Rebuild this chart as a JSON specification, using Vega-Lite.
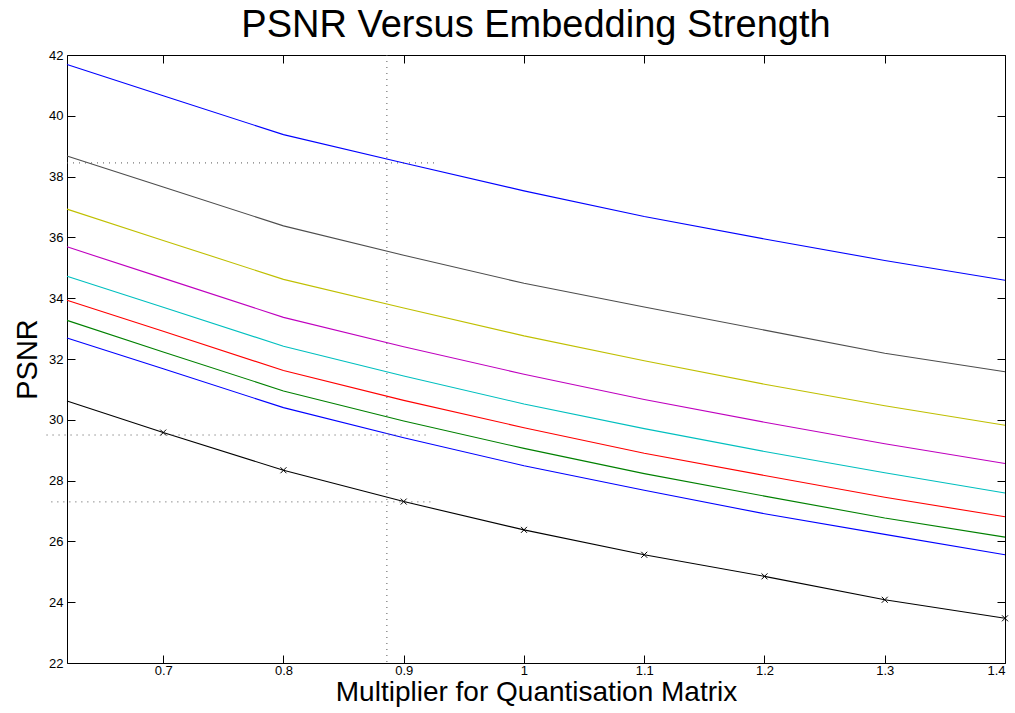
{
  "$schema": "https://vega.github.io/schema/vega-lite/v6.json",
  "width": 938,
  "height": 608,
  "autosize": {"type": "none"},
  "padding": {"left": 67, "top": 55, "right": 10, "bottom": 50},
  "background": "white",
  "config": {
    "font": "Liberation Sans",
    "view": {"stroke": null},
    "axis": {
      "domainColor": "black",
      "domainWidth": 1,
      "tickColor": "black",
      "tickWidth": 1,
      "tickSize": -8,
      "labelFont": "Liberation Sans",
      "labelFontSize": 13,
      "labelColor": "black",
      "grid": false,
      "titleFont": "Liberation Sans",
      "titleFontWeight": "normal",
      "titleColor": "black",
      "titleFontSize": 29
    }
  },
  "title": {
    "text": "PSNR Versus Embedding Strength",
    "fontSize": 38,
    "font": "Liberation Sans",
    "fontWeight": "normal",
    "color": "black",
    "anchor": "middle",
    "offset": 4
  },
  "datasets": {
    "curves": [
      {"s": "b1", "x": 0.62, "y": 41.69}, {"s": "b1", "x": 0.7, "y": 40.66}, {"s": "b1", "x": 0.8, "y": 39.38}, {"s": "b1", "x": 0.9, "y": 38.45}, {"s": "b1", "x": 1.0, "y": 37.53}, {"s": "b1", "x": 1.1, "y": 36.69}, {"s": "b1", "x": 1.2, "y": 35.95}, {"s": "b1", "x": 1.3, "y": 35.24}, {"s": "b1", "x": 1.4, "y": 34.59},
      {"s": "g1", "x": 0.62, "y": 38.68}, {"s": "g1", "x": 0.7, "y": 37.66}, {"s": "g1", "x": 0.8, "y": 36.38}, {"s": "g1", "x": 0.9, "y": 35.41}, {"s": "g1", "x": 1.0, "y": 34.49}, {"s": "g1", "x": 1.1, "y": 33.71}, {"s": "g1", "x": 1.2, "y": 32.95}, {"s": "g1", "x": 1.3, "y": 32.19}, {"s": "g1", "x": 1.4, "y": 31.58},
      {"s": "y1", "x": 0.62, "y": 36.93}, {"s": "y1", "x": 0.7, "y": 35.9}, {"s": "y1", "x": 0.8, "y": 34.62}, {"s": "y1", "x": 0.9, "y": 33.68}, {"s": "y1", "x": 1.0, "y": 32.76}, {"s": "y1", "x": 1.1, "y": 31.94}, {"s": "y1", "x": 1.2, "y": 31.17}, {"s": "y1", "x": 1.3, "y": 30.46}, {"s": "y1", "x": 1.4, "y": 29.82},
      {"s": "m1", "x": 0.62, "y": 35.69}, {"s": "m1", "x": 0.7, "y": 34.66}, {"s": "m1", "x": 0.8, "y": 33.37}, {"s": "m1", "x": 0.9, "y": 32.4}, {"s": "m1", "x": 1.0, "y": 31.5}, {"s": "m1", "x": 1.1, "y": 30.67}, {"s": "m1", "x": 1.2, "y": 29.92}, {"s": "m1", "x": 1.3, "y": 29.21}, {"s": "m1", "x": 1.4, "y": 28.56},
      {"s": "c1", "x": 0.62, "y": 34.72}, {"s": "c1", "x": 0.7, "y": 33.7}, {"s": "c1", "x": 0.8, "y": 32.42}, {"s": "c1", "x": 0.9, "y": 31.44}, {"s": "c1", "x": 1.0, "y": 30.52}, {"s": "c1", "x": 1.1, "y": 29.71}, {"s": "c1", "x": 1.2, "y": 28.96}, {"s": "c1", "x": 1.3, "y": 28.26}, {"s": "c1", "x": 1.4, "y": 27.59},
      {"s": "r1", "x": 0.62, "y": 33.93}, {"s": "r1", "x": 0.7, "y": 32.91}, {"s": "r1", "x": 0.8, "y": 31.62}, {"s": "r1", "x": 0.9, "y": 30.64}, {"s": "r1", "x": 1.0, "y": 29.74}, {"s": "r1", "x": 1.1, "y": 28.9}, {"s": "r1", "x": 1.2, "y": 28.17}, {"s": "r1", "x": 1.3, "y": 27.45}, {"s": "r1", "x": 1.4, "y": 26.81},
      {"s": "n1", "x": 0.62, "y": 33.27}, {"s": "n1", "x": 0.7, "y": 32.23}, {"s": "n1", "x": 0.8, "y": 30.95}, {"s": "n1", "x": 0.9, "y": 29.96}, {"s": "n1", "x": 1.0, "y": 29.06}, {"s": "n1", "x": 1.1, "y": 28.23}, {"s": "n1", "x": 1.2, "y": 27.49}, {"s": "n1", "x": 1.3, "y": 26.77}, {"s": "n1", "x": 1.4, "y": 26.14},
      {"s": "b2", "x": 0.62, "y": 32.69}, {"s": "b2", "x": 0.7, "y": 31.68}, {"s": "b2", "x": 0.8, "y": 30.4}, {"s": "b2", "x": 0.9, "y": 29.41}, {"s": "b2", "x": 1.0, "y": 28.49}, {"s": "b2", "x": 1.1, "y": 27.68}, {"s": "b2", "x": 1.2, "y": 26.91}, {"s": "b2", "x": 1.3, "y": 26.23}, {"s": "b2", "x": 1.4, "y": 25.56},
      {"s": "k1", "x": 0.62, "y": 30.62}, {"s": "k1", "x": 0.7, "y": 29.58}, {"s": "k1", "x": 0.8, "y": 28.34}, {"s": "k1", "x": 0.9, "y": 27.31}, {"s": "k1", "x": 1.0, "y": 26.38}, {"s": "k1", "x": 1.1, "y": 25.56}, {"s": "k1", "x": 1.2, "y": 24.85}, {"s": "k1", "x": 1.3, "y": 24.08}, {"s": "k1", "x": 1.4, "y": 23.47}
    ],
    "hrefs": [
      {"x": 0.62, "x2": 0.928, "y": 38.45},
      {"x": 0.603, "x2": 0.922, "y": 29.5},
      {"x": 0.607, "x2": 0.926, "y": 27.3}
    ],
    "vrefs": [
      {"x": 0.886}
    ]
  },
  "resolve": {"axis": {"x": "independent", "y": "independent"}},
  "layer": [
    {
      "data": {"name": "curves"},
      "mark": {"type": "line", "strokeWidth": 1.1, "interpolate": "linear"},
      "encoding": {
        "x": {
          "field": "x", "type": "quantitative",
          "scale": {"domain": [0.62, 1.4], "nice": false, "zero": false},
          "axis": {"orient": "bottom", "values": [0.7, 0.8, 0.9, 1.0, 1.1, 1.2, 1.3, 1.4], "format": "~g", "title": "Multiplier for Quantisation Matrix", "titleFontSize": 28, "labelPadding": 9, "titlePadding": 1}
        },
        "y": {
          "field": "y", "type": "quantitative",
          "scale": {"domain": [22, 42], "nice": false, "zero": false},
          "axis": {"orient": "left", "values": [22, 24, 26, 28, 30, 32, 34, 36, 38, 40, 42], "format": "d", "title": "PSNR", "labelPadding": 12, "titlePadding": 6}
        },
        "color": {
          "field": "s", "type": "nominal", "legend": null,
          "scale": {
            "domain": ["b1", "g1", "y1", "m1", "c1", "r1", "n1", "b2", "k1"],
            "range": ["#0000ff", "#4d4d4d", "#bfbf00", "#bf00bf", "#00bfbf", "#ff0000", "#008000", "#0000ff", "#000000"]
          }
        }
      }
    },
    {
      "data": {"name": "curves"},
      "transform": [{"filter": "datum.s == 'k1' && datum.x >= 0.7"}],
      "mark": {"type": "point", "shape": "M-1,-1L1,1M-1,1L1,-1", "filled": false, "stroke": "black", "strokeWidth": 1, "size": 36, "opacity": 1},
      "encoding": {
        "x": {"field": "x", "type": "quantitative", "scale": {"domain": [0.62, 1.4], "nice": false, "zero": false}, "axis": null},
        "y": {"field": "y", "type": "quantitative", "scale": {"domain": [22, 42], "nice": false, "zero": false}, "axis": null}
      }
    },
    {
      "data": {"name": "vrefs"},
      "mark": {"type": "rule", "color": "#555555", "strokeWidth": 1, "strokeDash": [1, 5]},
      "encoding": {
        "x": {
          "field": "x", "type": "quantitative",
          "scale": {"domain": [0.62, 1.4], "nice": false, "zero": false},
          "axis": {"orient": "top", "values": [0.7, 0.8, 0.9, 1.0, 1.1, 1.2, 1.3, 1.4], "labels": false, "title": null}
        }
      }
    },
    {
      "data": {"name": "hrefs"},
      "mark": {"type": "rule", "color": "#555555", "strokeWidth": 1, "strokeDash": [1, 5], "clip": false},
      "encoding": {
        "x": {"field": "x", "type": "quantitative", "scale": {"domain": [0.62, 1.4], "nice": false, "zero": false}, "axis": null},
        "x2": {"field": "x2"},
        "y": {
          "field": "y", "type": "quantitative",
          "scale": {"domain": [22, 42], "nice": false, "zero": false},
          "axis": {"orient": "right", "values": [22, 24, 26, 28, 30, 32, 34, 36, 38, 40, 42], "labels": false, "title": null}
        }
      }
    }
  ]
}
